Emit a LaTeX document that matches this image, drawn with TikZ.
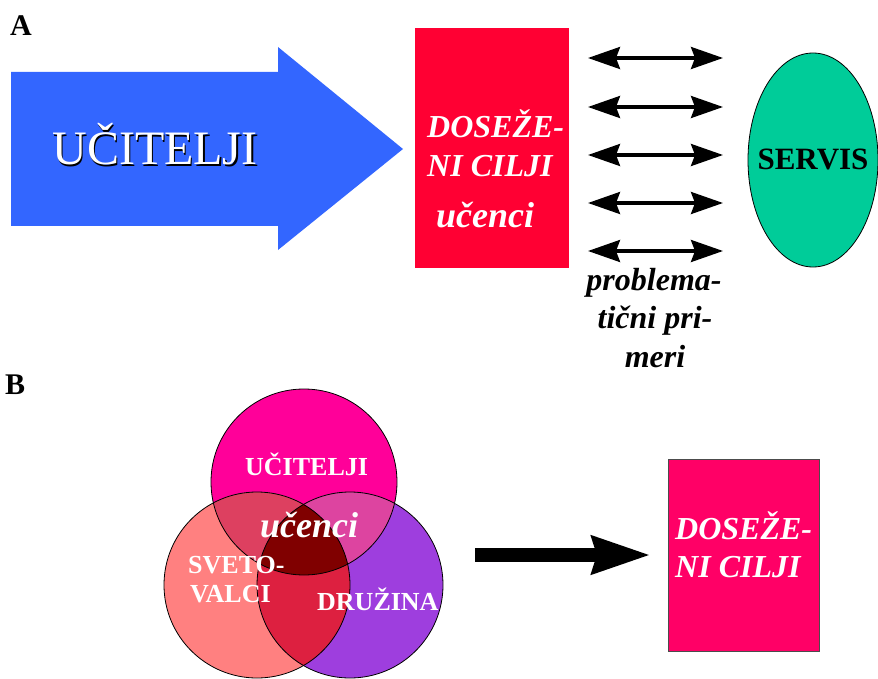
\documentclass[tikz,border=0pt]{standalone}
\usepackage{fontspec}
\setmainfont{Liberation Serif}
\usetikzlibrary{arrows.meta,shapes.geometric}
\definecolor{blueA}{HTML}{3366FF}
\definecolor{redA}{HTML}{FF0033}
\definecolor{greenA}{HTML}{00CC99}
\definecolor{pinkB}{HTML}{FF0099}
\definecolor{salmonB}{HTML}{FF8080}
\definecolor{purpleB}{HTML}{9E3EDE}
\definecolor{tlB}{HTML}{DD4060}
\definecolor{trB}{HTML}{DD44A0}
\definecolor{lrB}{HTML}{DD2040}
\definecolor{cB}{HTML}{800000}
\definecolor{boxB}{HTML}{FF0066}
\tikzset{
  lbl/.style={font=\bfseries\fontsize{30}{30}\selectfont, anchor=base west, inner sep=0},
  bi/.style={font=\bfseries\itshape\fontsize{32}{38}\selectfont, inner sep=0},
  venntxt/.style={font=\bfseries\fontsize{26}{30}\selectfont, text=white, inner sep=0},
  dbl/.style={line width=3.3pt, {Stealth[length=32pt,width=22pt,inset=4pt]}-{Stealth[length=32pt,width=22pt,inset=4pt]}},
}
\begin{document}
\begin{tikzpicture}[x=1pt,y=-1pt]
\useasboundingbox (0,0) rectangle (878,679);
% labels
\node[lbl] (A) at (10,36) {A};
\node[lbl] (B) at (5,394) {B};
% blue arrow
\fill[blueA] (11,72) -- (278,72) -- (278,47) -- (403,149) -- (278,250) -- (278,226) -- (11,226) -- cycle;
\node[font=\fontsize{48}{48}\selectfont, text=black, inner sep=0, anchor=base] at (156.5,166.5) {UČITELJI};
\node[font=\fontsize{48}{48}\selectfont, text=white, inner sep=0, anchor=base] (uc) at (155,165) {UČITELJI};
% red box
\node[fill=redA, minimum width=154, minimum height=240, inner sep=0, anchor=north west] (box) at (415,28) {};
\node[bi, text=white, anchor=base west] (d1) at (427,138) {DOSEŽE-};
\node[bi, text=white, anchor=base west] (d2) at (427,177) {NI CILJI};
\node[font=\bfseries\itshape\fontsize{36}{40}\selectfont, text=white, inner sep=0, anchor=base west] (d3) at (436,227) {učenci};
% double arrows
\foreach \i/\y in {1/58,2/107,3/155,4/203,5/251}{
  \coordinate (l\i) at (588,\y);
  \coordinate (r\i) at (723,\y);
  \draw[dbl] (l\i) -- (r\i);
}
% ellipse
\node[ellipse, draw=black, line width=0.8pt, fill=greenA, minimum width=130, minimum height=214, inner sep=0] (servis) at (813,160) {};
\node[font=\bfseries\fontsize{31}{31}\selectfont, inner sep=0, anchor=base] (st) at (813,170) {SERVIS};
% problematicni
\node[bi, anchor=base] (p1) at (654,290) {problema-};
\node[bi, anchor=base] (p2) at (655,328) {tični pri-};
\node[bi, anchor=base] (p3) at (655,367) {meri};
% Venn
\coordinate (ct) at (304,482);
\coordinate (cl) at (257,585);
\coordinate (cr) at (350,585);
\fill[pinkB] (ct) circle (93);
\fill[salmonB] (cl) circle (93);
\fill[purpleB] (cr) circle (93);
\begin{scope}
  \clip (ct) circle (93);
  \fill[tlB] (cl) circle (93);
\end{scope}
\begin{scope}
  \clip (ct) circle (93);
  \fill[trB] (cr) circle (93);
\end{scope}
\begin{scope}
  \clip (cl) circle (93);
  \fill[lrB] (cr) circle (93);
\end{scope}
\begin{scope}
  \clip (cl) circle (93);
  \clip (cr) circle (93);
  \fill[cB] (ct) circle (93);
\end{scope}
\node[circle, draw=black, line width=0.8pt, minimum size=186, inner sep=0] (vt) at (ct) {};
\node[circle, draw=black, line width=0.8pt, minimum size=186, inner sep=0] (vl) at (cl) {};
\node[circle, draw=black, line width=0.8pt, minimum size=186, inner sep=0] (vr) at (cr) {};
\node[venntxt, anchor=base west] (vt1) at (245,475) {UČITELJI};
\node[font=\bfseries\itshape\fontsize{36}{40}\selectfont, text=white, inner sep=0, anchor=base west] (vu) at (260,537) {učenci};
\node[venntxt, anchor=base west] (vs1) at (188,573) {SVETO-};
\node[venntxt, anchor=base west] (vs2) at (190,602) {VALCI};
\node[venntxt, anchor=base west] (vd) at (317,610) {DRUŽINA};
% bottom arrow and box
\coordinate (ba) at (475,555);
\node[fill=boxB, draw=black!70, line width=0.8pt, minimum width=151, minimum height=192, inner sep=0, anchor=north west] (box2) at (668,459) {};
\coordinate (bb) at (651,555);
\draw[line width=14pt, -{Stealth[length=58pt,width=36pt,inset=4pt]}] (ba) -- (bb);
\node[bi, text=white, anchor=base west] (e1) at (675,539) {DOSEŽE-};
\node[bi, text=white, anchor=base west] (e2) at (675,577) {NI CILJI};
\end{tikzpicture}
\end{document}
